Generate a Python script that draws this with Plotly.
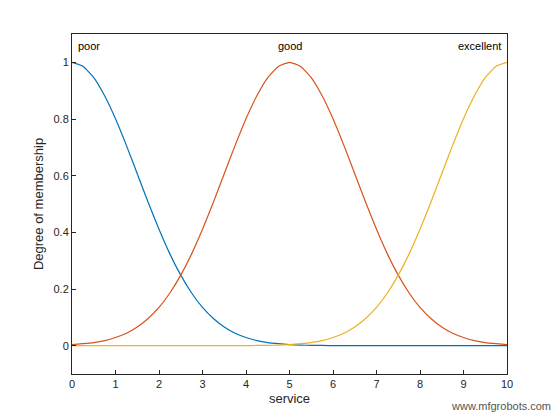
import plotly.graph_objects as go

service = [i * 0.25 for i in range(41)]
poor = [1.0, 0.986, 0.946, 0.882, 0.801, 0.707, 0.607, 0.506, 0.411, 0.324, 0.249, 0.186, 0.135, 0.096,
        0.066, 0.044, 0.029, 0.018, 0.011, 0.007, 0.004, 0.002, 0.001, 0.0007, 0.0003, 0.0002, 0.0001,
        0, 0, 0, 0, 0, 0, 0, 0, 0, 0, 0, 0, 0, 0]
good = [0.004, 0.007, 0.011, 0.018, 0.029, 0.044, 0.066, 0.096, 0.135, 0.186, 0.249, 0.324, 0.411,
        0.506, 0.607, 0.707, 0.801, 0.882, 0.946, 0.986, 1.0, 0.986, 0.946, 0.882, 0.801, 0.707, 0.607,
        0.506, 0.411, 0.324, 0.249, 0.186, 0.135, 0.096, 0.066, 0.044, 0.029, 0.018, 0.011, 0.007, 0.004]
excellent = poor[::-1]
names = ["poor", "good", "excellent"]
label_x = [0.1, 5, 9.9]
colors = ["#0072BD", "#D95319", "#EDB120"]

fig = go.Figure()
for name, ys, c in zip(names, [poor, good, excellent], colors):
    fig.add_trace(go.Scatter(x=service, y=ys, mode="lines", name=name,
                             line=dict(color=c, width=1.2, shape="spline", smoothing=0.5)))

for name, lx, anchor in zip(names, label_x, ["left", "center", "right"]):
    fig.add_annotation(x=lx, y=1.03, text=name, showarrow=False,
                       xanchor=anchor, yanchor="bottom", font=dict(size=11, color="black"))

fig.add_annotation(x=1, y=0, xref="paper", yref="paper", xshift=46, yshift=-40,
                   text="www.mfgrobots.com", showarrow=False, xanchor="right",
                   font=dict(size=11, color="#555"))

axis = dict(showgrid=False, zeroline=False, showline=True, mirror=True, automargin=False,
            linecolor="#262626", linewidth=1, ticks="inside", ticklen=4,
            tickcolor="#262626", tickfont=dict(size=11, color="#262626"))
fig.update_layout(
    width=560, height=420, showlegend=False,
    margin=dict(l=64, r=61, t=26, b=54),
    paper_bgcolor="white", plot_bgcolor="white",
    font=dict(family="Liberation Sans, Arial", size=11, color="#262626"),
    xaxis=dict(axis, range=[0, 10], dtick=1, title=dict(text="service", standoff=4)),
    yaxis=dict(axis, range=[-0.1, 1.1], tickvals=[0, 0.2, 0.4, 0.6, 0.8, 1],
               ticktext=["0", "0.2", "0.4", "0.6", "0.8", "1"],
               title=dict(text="Degree of membership", standoff=6)),
)
fig.write_html("out.html")
